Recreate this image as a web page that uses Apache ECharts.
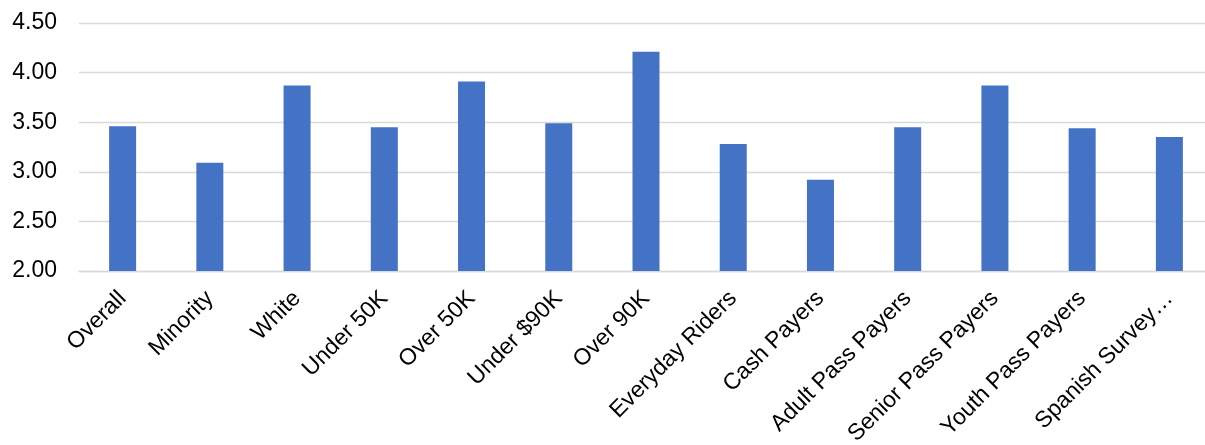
<!DOCTYPE html>
<html>
<head>
<meta charset="utf-8">
<script src="https://cdn.jsdelivr.net/npm/echarts@6/dist/echarts.min.js"></script>
<style>
  html, body { margin: 0; padding: 0; background: #ffffff; }
  #chart { width: 1205px; height: 445px; }
</style>
</head>
<body>
<div id="chart"></div>
<script>
// Rider groups along the x axis
const categories = [
  'Overall', 'Minority', 'White', 'Under 50K', 'Over 50K', 'Under $90K',
  'Over 90K', 'Everyday Riders', 'Cash Payers', 'Adult Pass Payers',
  'Senior Pass Payers', 'Youth Pass Payers', 'Spanish Survey…'
];

// Average score for each group
const scores = [3.46, 3.09, 3.87, 3.45, 3.91, 3.49, 4.21, 3.28, 2.92, 3.45, 3.87, 3.44, 3.35];

// Value axis range and step
const yMin = 2.0;
const yMax = 4.5;
const yStep = 0.5;

const chart = echarts.init(document.getElementById('chart'), null, { renderer: 'canvas' });

chart.setOption({
  animation: false,
  backgroundColor: '#ffffff',
  grid: {
    left: 79, top: 23, width: 1134, height: 248,
    containLabel: false,
    outerBoundsMode: 'none'
  },
  xAxis: {
    type: 'category',
    data: categories,
    axisTick: { show: false },
    axisLine: { show: true, lineStyle: { color: '#d9d9d9', width: 1.3 } },
    axisLabel: {
      interval: 0,
      rotate: 45,
      margin: 24,
      color: '#000000',
      fontFamily: 'Liberation Sans, Arial, sans-serif',
      fontSize: 23
    }
  },
  yAxis: {
    type: 'value',
    min: yMin,
    max: yMax,
    interval: yStep,
    axisLine: { show: false },
    axisTick: { show: false },
    splitLine: { lineStyle: { color: '#d9d9d9', width: 1.3 } },
    axisLabel: {
      margin: 22,
      color: '#000000',
      fontFamily: 'Liberation Sans, Arial, sans-serif',
      fontSize: 23,
      formatter: v => v.toFixed(2)
    }
  },
  series: [{
    type: 'bar',
    data: scores,
    barWidth: 27,
    itemStyle: { color: '#4472c4' }
  }]
});
</script>
</body>
</html>
